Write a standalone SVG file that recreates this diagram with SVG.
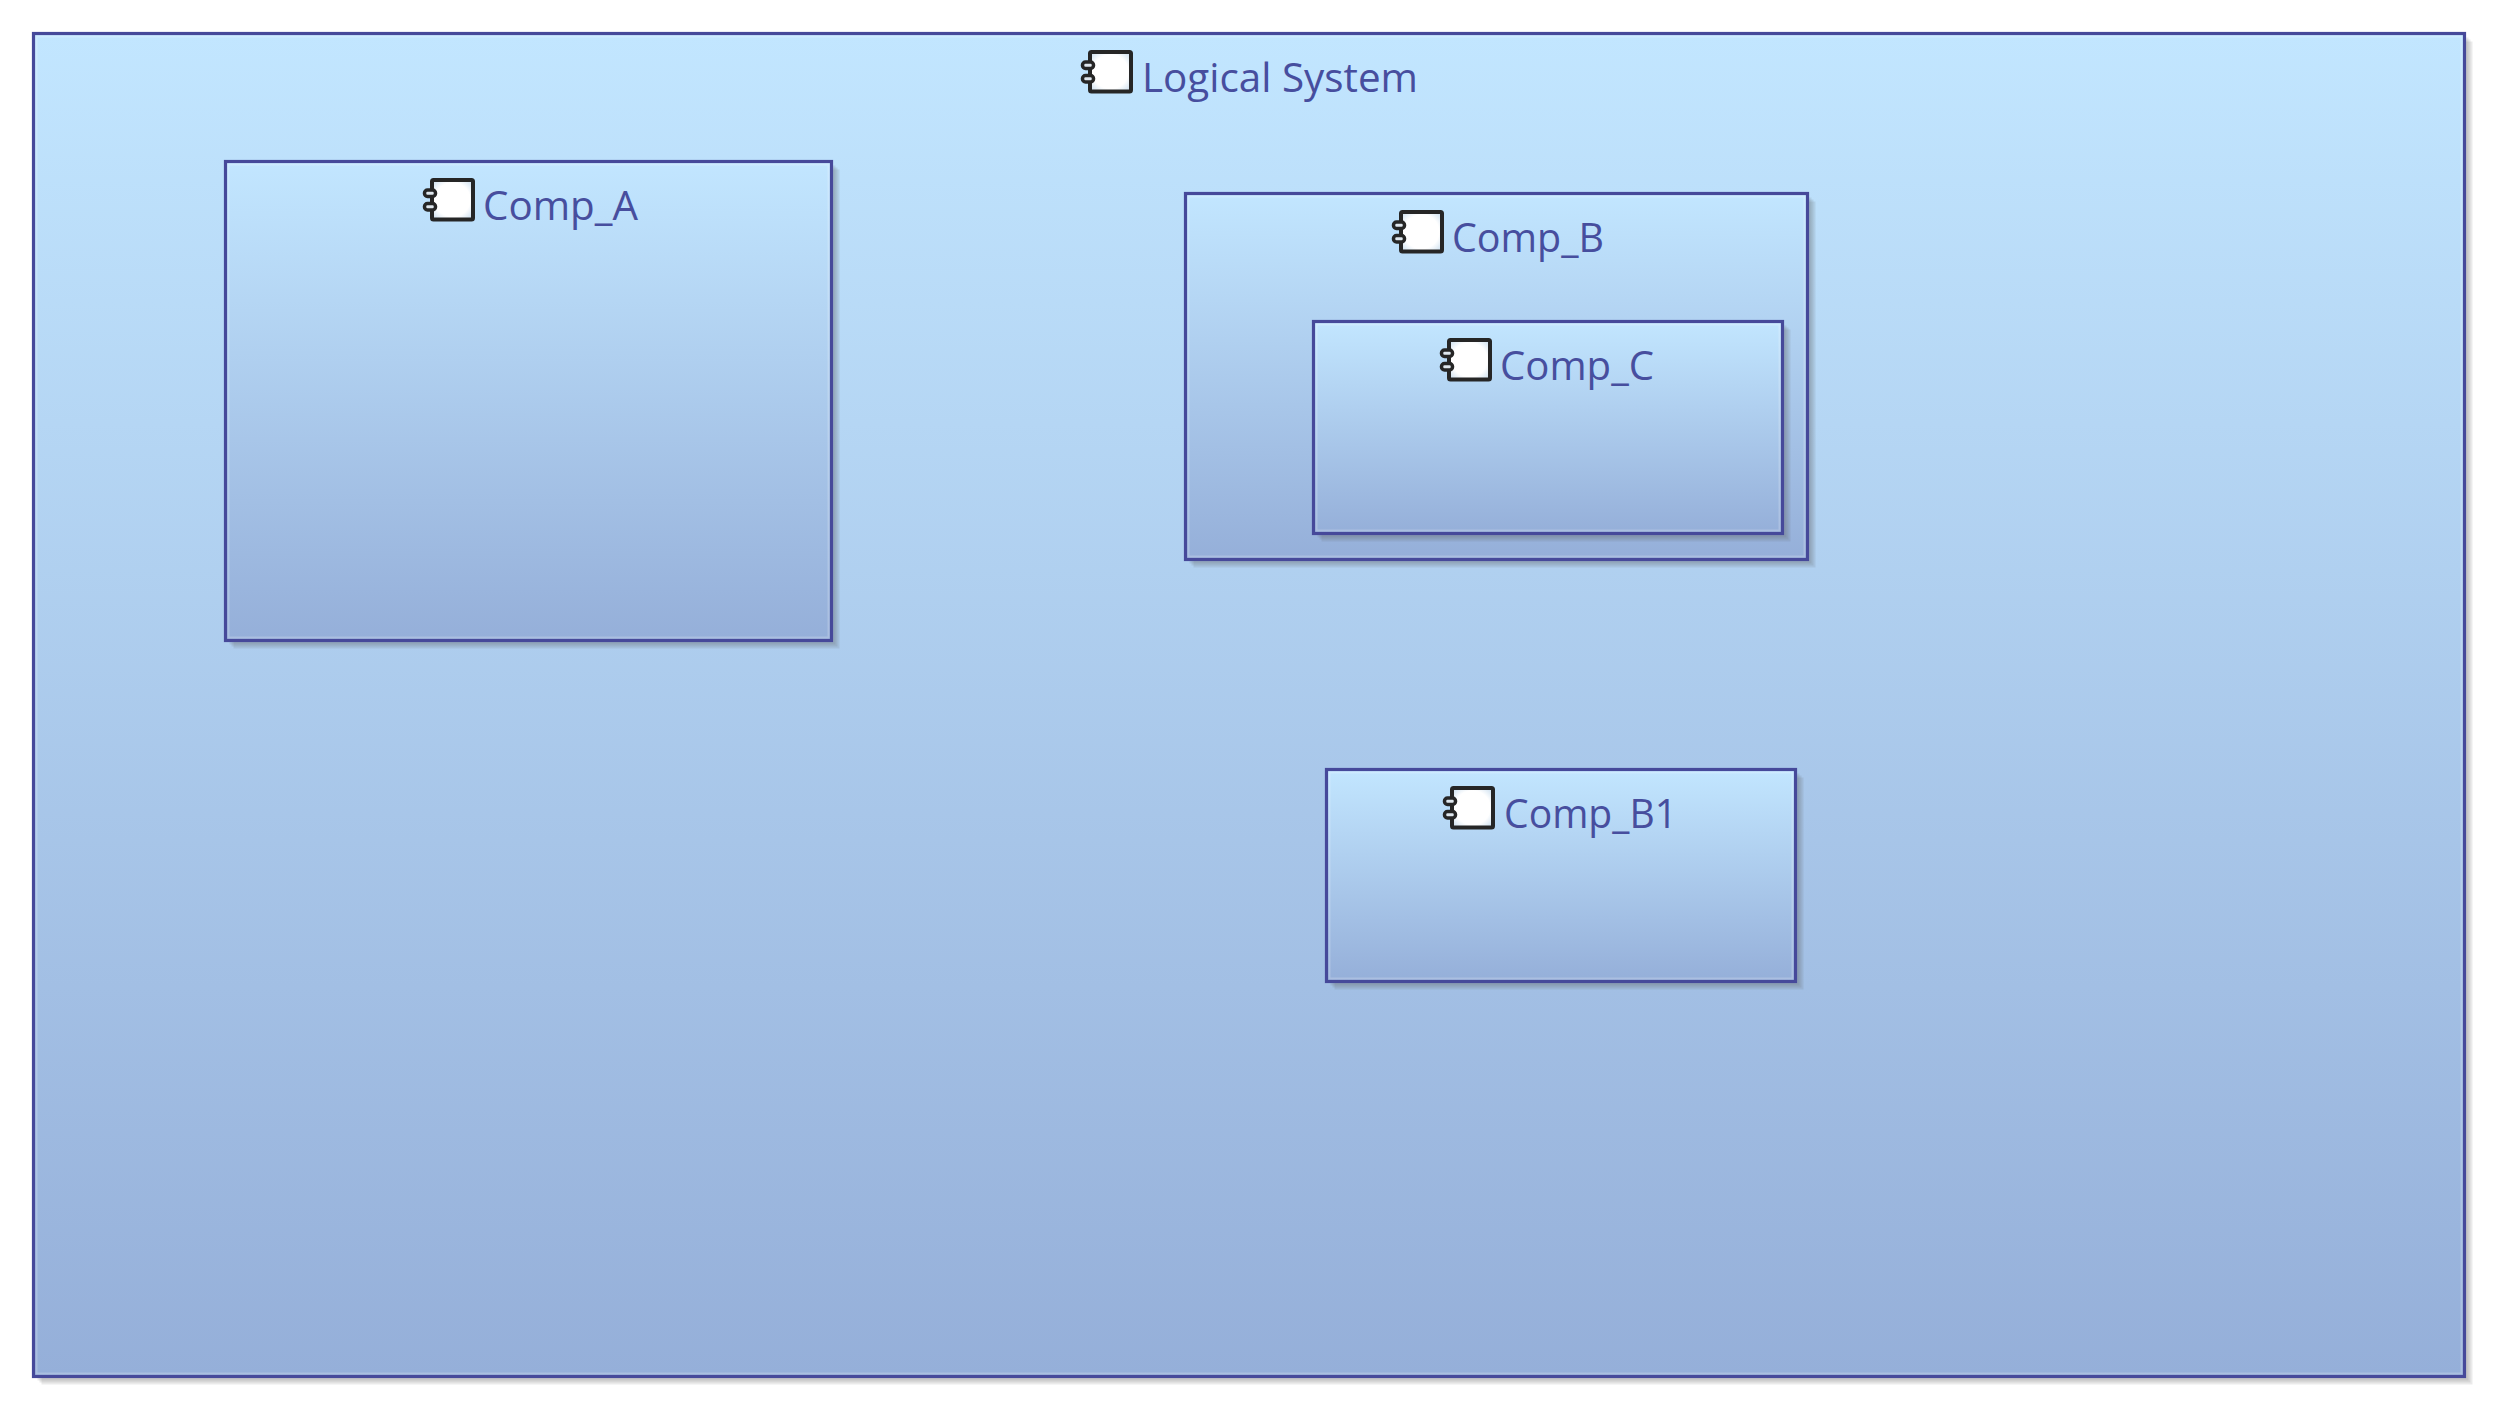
<svg xmlns="http://www.w3.org/2000/svg" width="2505" height="1417" viewBox="0 0 2505 1417">
<style>
.box{stroke:#46499a;stroke-width:3.2;fill:url(#g)}
.hl{fill:none;stroke:#fff;stroke-opacity:.2;stroke-width:2}
.s{fill:#5a5a5a;fill-opacity:.13}
.t{font-family:"Open Sans","Noto Sans",sans-serif;font-size:40px;fill:#474e9e}
.ib{fill:url(#ig);stroke:#262626;stroke-width:4;stroke-linejoin:round}
.ip{fill:#dfe7ee;stroke:#262626;stroke-width:3.5}
</style>
<defs>
<linearGradient id="g" x1="0" y1="0" x2="0" y2="1"><stop offset="0" stop-color="#c2e6ff"/><stop offset="1" stop-color="#95afd9"/></linearGradient>
<radialGradient id="ig" cx=".5" cy=".5" r=".72"><stop offset="0" stop-color="#fff"/><stop offset=".6" stop-color="#fff"/><stop offset="1" stop-color="#bed6ea"/></radialGradient>
<g id="icon">
<rect class="ib" x="3" y="0" width="41" height="39.5" rx="1.5"/>
<rect class="ip" x="-4.5" y="10" width="11" height="6.5" rx="3"/>
<rect class="ip" x="-4.5" y="23.5" width="11" height="6.5" rx="3"/>
</g>
</defs>
<g id="logical-system">
<rect class="s" x="41.5" y="41.5" width="2431" height="1343"/><rect class="s" x="39.5" y="39.5" width="2431" height="1343"/><rect class="s" x="37.5" y="37.5" width="2431" height="1343"/>
<rect class="box" x="33.5" y="33.5" width="2431" height="1343"/>
<rect class="hl" x="36.5" y="36.5" width="2425" height="1337"/>
<use href="#icon" x="1087" y="52"/>
<text class="t" x="1142" y="92" textLength="276" lengthAdjust="spacingAndGlyphs">Logical System</text>
</g>
<g id="comp-a">
<rect class="s" x="233.5" y="169.5" width="606" height="479"/><rect class="s" x="231.5" y="167.5" width="606" height="479"/><rect class="s" x="229.5" y="165.5" width="606" height="479"/>
<rect class="box" x="225.5" y="161.5" width="606" height="479"/>
<rect class="hl" x="228.5" y="164.5" width="600" height="473"/>
<use href="#icon" x="429" y="180"/>
<text class="t" x="483" y="220" textLength="155" lengthAdjust="spacingAndGlyphs">Comp_A</text>
</g>
<g id="comp-b">
<rect class="s" x="1193.5" y="201.5" width="622" height="366"/><rect class="s" x="1191.5" y="199.5" width="622" height="366"/><rect class="s" x="1189.5" y="197.5" width="622" height="366"/>
<rect class="box" x="1185.5" y="193.5" width="622" height="366"/>
<rect class="hl" x="1188.5" y="196.5" width="616" height="360"/>
<use href="#icon" x="1398" y="212"/>
<text class="t" x="1452" y="252" textLength="152" lengthAdjust="spacingAndGlyphs">Comp_B</text>
</g>
<g id="comp-c">
<rect class="s" x="1321.5" y="329.5" width="469" height="212"/><rect class="s" x="1319.5" y="327.5" width="469" height="212"/><rect class="s" x="1317.5" y="325.5" width="469" height="212"/>
<rect class="box" x="1313.5" y="321.5" width="469" height="212"/>
<rect class="hl" x="1316.5" y="324.5" width="463" height="206"/>
<use href="#icon" x="1446" y="340"/>
<text class="t" x="1500" y="380" textLength="154" lengthAdjust="spacingAndGlyphs">Comp_C</text>
</g>
<g id="comp-b1">
<rect class="s" x="1334.5" y="777.5" width="469" height="212"/><rect class="s" x="1332.5" y="775.5" width="469" height="212"/><rect class="s" x="1330.5" y="773.5" width="469" height="212"/>
<rect class="box" x="1326.5" y="769.5" width="469" height="212"/>
<rect class="hl" x="1329.5" y="772.5" width="463" height="206"/>
<use href="#icon" x="1449" y="788"/>
<text class="t" x="1504" y="828" textLength="173" lengthAdjust="spacingAndGlyphs">Comp_B1</text>
</g>
<g id="connectors"/>
</svg>
